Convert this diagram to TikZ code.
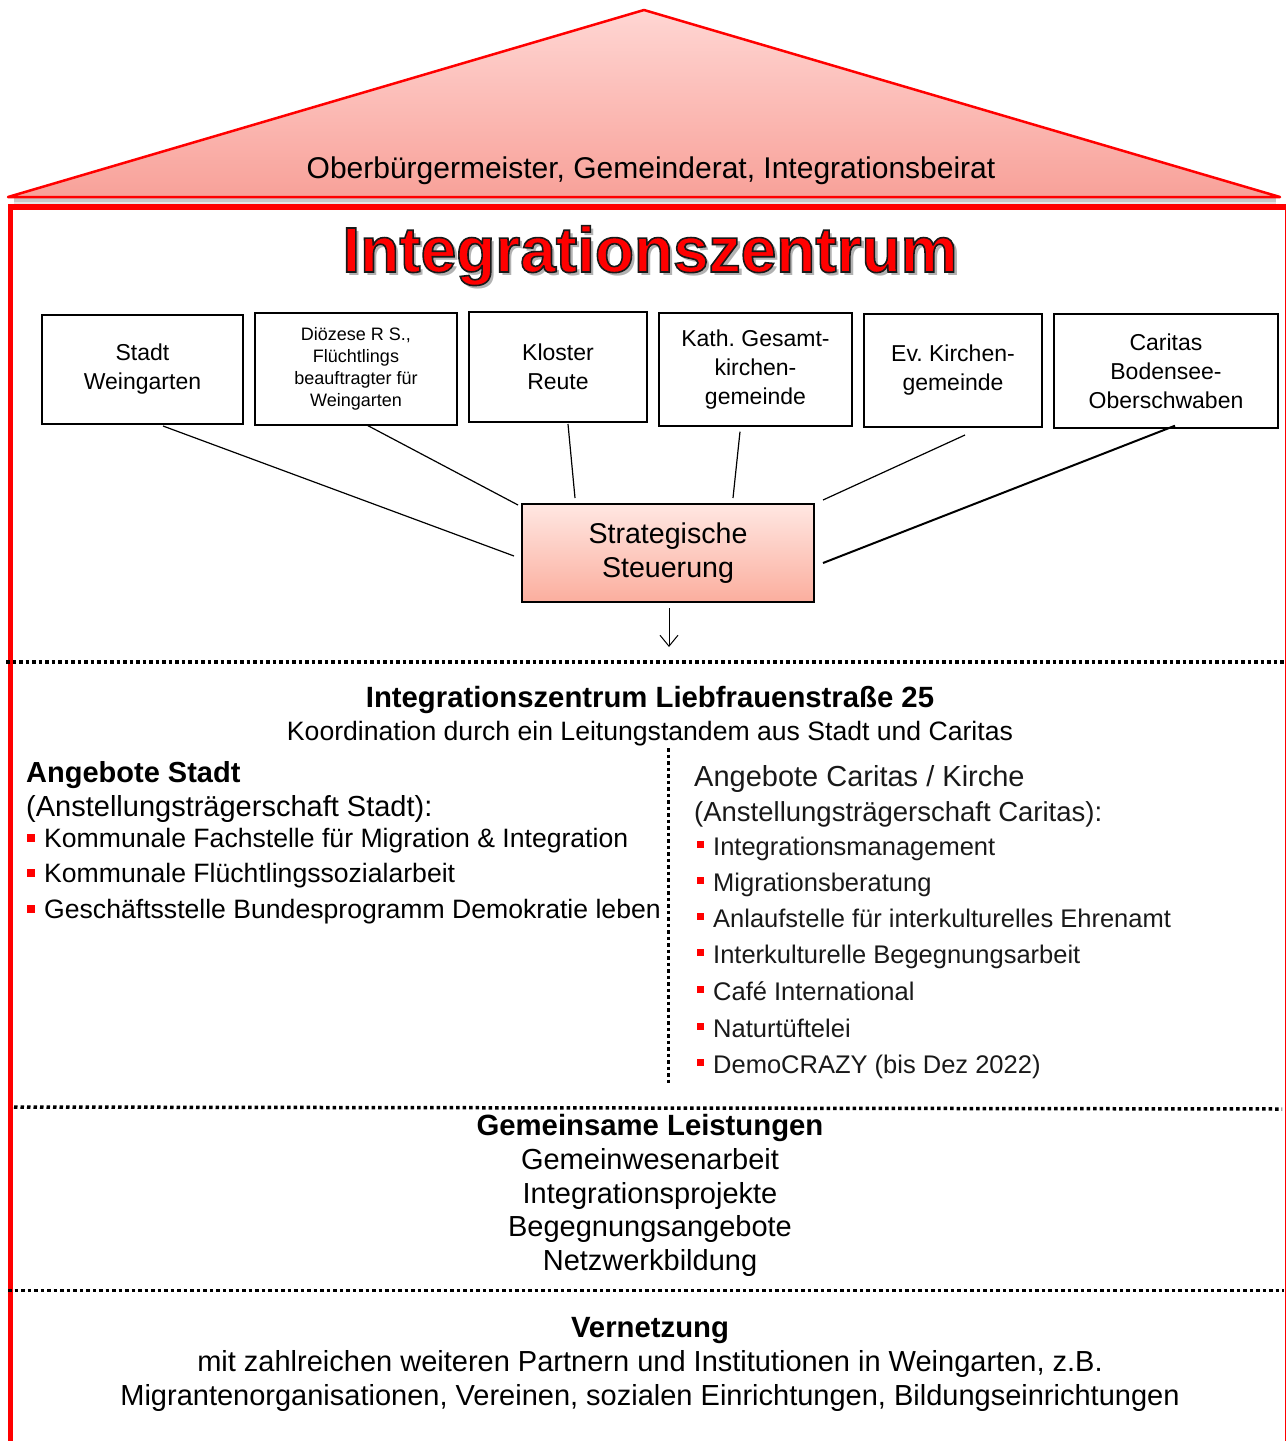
\documentclass[tikz,border=0pt]{standalone}
\usepackage{fontspec}
\setmainfont{Liberation Sans}
\usetikzlibrary{arrows.meta,calc}
\definecolor{roofTop}{HTML}{FFD6D3}
\definecolor{roofBot}{HTML}{F8A199}
\definecolor{ssTop}{HTML}{FFE7E2}
\definecolor{ssBot}{HTML}{FBAE9E}
\definecolor{frameRed}{HTML}{FF0000}
\newcommand{\myfs}[2]{\fontsize{#1}{#2}\selectfont}
\newcommand{\bulS}{\textcolor{frameRed}{\rule[5pt]{8pt}{8pt}}\hspace{9pt}}
\newcommand{\bulC}{\textcolor{frameRed}{\rule[7pt]{7pt}{7pt}}\hspace{9pt}}
\newcommand{\outlined}[1]{\special{pdf:literal direct 0.1 0.1 0.1 RG 1.6 w 2 Tr}#1\special{pdf:literal direct 0 Tr}}
\begin{document}
\begin{tikzpicture}[x=1pt,y=-1pt,
  orgbox/.style={draw=black, line width=2, inner sep=0, align=center, font=\myfs{23}{29}},
  orgboxthin/.style={orgbox, line width=1.4},
  link/.style={draw=black, line width=1.2},
  dotline/.style={draw=black, line width=3.5, dash pattern=on 3.5 off 3},
  txt/.style={inner sep=0, font=\myfs{29}{34}},
  bold/.style={inner sep=0, font=\myfs{29.3}{34}\bfseries},
  ccol/.style={inner sep=0, text=black!90},
  ]
\useasboundingbox (0,0) rectangle (1288,1441);
% roof
\coordinate (apex) at (644,10);
\coordinate (rl) at (8,197);
\coordinate (rr) at (1280,197);
\fill[black, opacity=0.10] (14,197) rectangle (1276,205);
\fill[black, opacity=0.12] (14,197) rectangle (1276,202);
\draw[frameRed, line width=2.5, top color=roofTop, bottom color=roofBot, line join=round] (apex) -- (rr) -- (rl) -- cycle;
\node[anchor=base, inner sep=0, font=\myfs{30}{34}] (rooftext) at (651,178) {Oberbürgermeister, Gemeinderat, Integrationsbeirat};
% frame
\draw[frameRed, line width=5.5] (10.5,1441) -- (10.5,207) -- (1286,207);
\draw[frameRed, line width=1.5] (1285.5,207) -- (1285.5,1441);
% title with shadow and dark outline (one node)
\node[anchor=base, inner sep=0, font=\myfs{64}{70}\bfseries] (title) at (650,272)
  {\makebox[0pt][l]{\raisebox{-3.5pt}{\hspace{3.5pt}\textcolor{black!30}{Integrationszentrum}}}\textcolor{frameRed}{\outlined{Integrationszentrum}}};
% organisation boxes
\node[orgbox, minimum width=201, minimum height=109] (b1) at (142.5,369.5) {Stadt\\Weingarten};
\node[orgboxthin, minimum width=202, minimum height=112, font=\myfs{18}{22}] (b2) at (356,369) {Diözese R S.,\\Flüchtlings\\beauftragter für\\Weingarten};
\node[orgbox, minimum width=178, minimum height=110] (b3) at (558,367) {Kloster\\Reute};
\node[orgboxthin, minimum width=193, minimum height=113] (b4) at (755.5,369.5) {Kath.\ Gesamt-\\kirchen-\\gemeinde};
\node[orgbox, minimum width=178, minimum height=113] (b5) at (953,370.5) {Ev.\ Kirchen-\\gemeinde};
\node[orgboxthin, minimum width=224, minimum height=114] (b6) at (1166,371) {Caritas\\Bodensee-\\Oberschwaben};
% strategic steering
\node[draw=black, line width=2, top color=ssTop, bottom color=ssBot, minimum width=292, minimum height=98, inner sep=0, align=center, font=\myfs{28.6}{34}] (ss) at (668,553) {Strategische\\Steuerung};
% connectors
\draw[link] ($(b1.south)+(20.5,1)$) -- ($(ss.west)+(-7,3)$);
\draw[link] ($(b2.south)+(12,0)$) -- ($(ss.north west)+(-3,2)$);
\draw[link] ($(b3.south)+(10,1)$) -- ($(ss.north west)+(54,-5)$);
\draw[link] ($(b4.south)+(-15.5,5)$) -- ($(ss.north west)+(212,-5)$);
\draw[link] ($(b5.south)+(12,7)$) -- ($(ss.north east)+(8,-3)$);
\draw[link, line width=2] ($(b6.south)+(9,-3)$) -- ($(ss.east)+(8,10)$);
\coordinate (arrowend) at (669,647);
\draw[black, line width=1, -{Straight Barb[length=11, width=18, line width=1]}] ($(ss.south)+(1,5)$) -- (arrowend);
% separators
\draw[dotline] (6,662) -- (1284,662);
\draw[dotline] (14,1107) -- (1282,1109);
\draw[dotline] (8,1290.5) -- (1284,1290.5);
\draw[dotline, line width=3] (668,748) -- (668,1086);
% Integrationszentrum header
\node[bold, anchor=base] (izhead) at (650,707) {Integrationszentrum Liebfrauenstraße 25};
\node[txt, anchor=base, font=\myfs{26.6}{30}] (izsub) at (650,740) {Koordination durch ein Leitungstandem aus Stadt und Caritas};
% left column
\node[bold, anchor=base west, font=\myfs{29}{34}\bfseries] (lhead) at (26,782) {Angebote Stadt};
\node[txt, anchor=base west] (lsub) at (26,816) {(Anstellungsträgerschaft Stadt):};
\node[txt, anchor=base west, font=\myfs{26.6}{30}] (l1) at (27,847) {\bulS Kommunale Fachstelle für Migration \& Integration};
\node[txt, anchor=base west, font=\myfs{26.6}{30}] (l2) at (27,882) {\bulS Kommunale Flüchtlingssozialarbeit};
\node[txt, anchor=base west, font=\myfs{26.6}{30}] (l3) at (27,918) {\bulS Geschäftsstelle Bundesprogramm Demokratie leben};
% right column
\node[ccol, anchor=base west, font=\myfs{29}{34}] (rhead) at (694,786) {Angebote Caritas / Kirche};
\node[ccol, anchor=base west, font=\myfs{27.5}{32}] (rsub) at (694,821) {(Anstellungsträgerschaft Caritas):};
\foreach \n/\y/\t in {1/855/Integrationsmanagement, 2/891/Migrationsberatung, 3/927/Anlaufstelle für interkulturelles Ehrenamt, 4/963/Interkulturelle Begegnungsarbeit, 5/1000/Café International, 6/1037/Naturtüftelei, 7/1073/DemoCRAZY (bis Dez 2022)}{
  \node[ccol, anchor=base west, font=\myfs{25.5}{30}] (r\n) at (697,\y) {\bulC \t};
}
% common services
\node[bold, anchor=base] (ghead) at (650,1135) {Gemeinsame Leistungen};
\node[txt, anchor=base] (g1) at (650,1169) {Gemeinwesenarbeit};
\node[txt, anchor=base] (g2) at (650,1203) {Integrationsprojekte};
\node[txt, anchor=base] (g3) at (650,1236) {Begegnungsangebote};
\node[txt, anchor=base] (g4) at (650,1270) {Netzwerkbildung};
% networking
\node[bold, anchor=base] (vhead) at (650,1337) {Vernetzung};
\node[txt, anchor=base] (v1) at (650,1371) {mit zahlreichen weiteren Partnern und Institutionen in Weingarten, z.B.};
\node[txt, anchor=base] (v2) at (650,1405) {Migrantenorganisationen, Vereinen, sozialen Einrichtungen, Bildungseinrichtungen};
\end{tikzpicture}
\end{document}
